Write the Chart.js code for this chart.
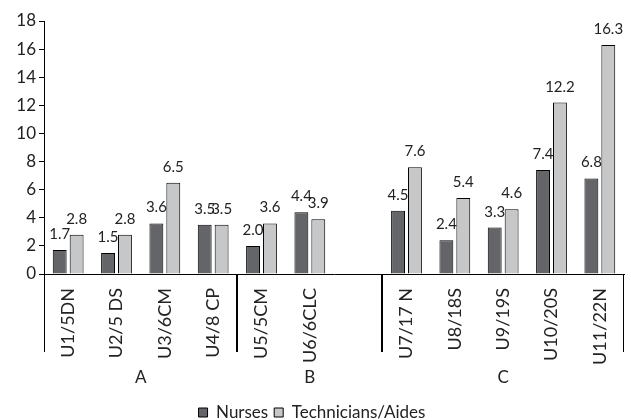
<!DOCTYPE html>
<html>
<head>
<meta charset="utf-8">
<script src="https://cdn.jsdelivr.net/npm/chart.js@4.4.1/dist/chart.umd.min.js"></script>
<style>
  html, body { margin: 0; padding: 0; background: #fff; }
  #wrap { width: 631px; height: 420px; }
</style>
</head>
<body>
<div id="wrap"><canvas id="chart"></canvas></div>
<script>
const units = ['U1/5DN', 'U2/5 DS', 'U3/6CM', 'U4/8 CP', 'U5/5CM', 'U6/6CLC',
               'U7/17 N', 'U8/18S', 'U9/19S', 'U10/20S', 'U11/22N'];
const unitGroups = ['A', 'A', 'A', 'A', 'B', 'B', 'C', 'C', 'C', 'C', 'C'];
const nurses = [1.7, 1.5, 3.6, 3.5, 2.0, 4.4, 4.5, 2.4, 3.3, 7.4, 6.8];
const technicians = [2.8, 2.8, 6.5, 3.5, 3.6, 3.9, 7.6, 5.4, 4.6, 12.2, 16.3];
const yTicks = [0, 2, 4, 6, 8, 10, 12, 14, 16, 18];

const FONT = 'Lato';
const INK = '#222';

// slots on the axis; group B keeps an empty slot at its end like the original
const labels = [], nurseData = [], techData = [], slotGroup = [];
units.forEach((u, i) => {
  labels.push(u);
  nurseData.push(nurses[i]);
  techData.push(technicians[i]);
  slotGroup.push(unitGroups[i]);
  if (unitGroups[i] === 'B' && unitGroups[i + 1] !== 'B') {
    labels.push('');
    nurseData.push(null);
    techData.push(null);
    slotGroup.push('B');
  }
});

const valueLabels = {
  id: 'valueLabels',
  afterDatasetsDraw(chart) {
    const ctx = chart.ctx;
    ctx.save();
    ctx.font = '15px ' + FONT;
    ctx.fillStyle = INK;
    ctx.textAlign = 'center';
    ctx.textBaseline = 'alphabetic';
    chart.data.datasets.forEach((ds, d) => {
      chart.getDatasetMeta(d).data.forEach((bar, i) => {
        const v = ds.data[i];
        if (v == null) return;
        ctx.fillText(v.toFixed(1), bar.x, bar.y - 11);
      });
    });
    ctx.restore();
  }
};

const groupAxis = {
  id: 'groupAxis',
  afterDraw(chart) {
    const ctx = chart.ctx;
    const x = chart.scales.x;
    const area = chart.chartArea;
    const n = labels.length;
    const edge = i => {
      if (i <= 0) return area.left;
      if (i >= n) return area.right;
      return (x.getPixelForValue(i - 1) + x.getPixelForValue(i)) / 2;
    };
    ctx.save();
    ctx.strokeStyle = '#000';
    ctx.lineWidth = 1;
    ctx.fillStyle = INK;
    ctx.font = '17px ' + FONT;
    ctx.textAlign = 'center';
    ctx.textBaseline = 'middle';
    const groups = [...new Set(slotGroup)];
    const lines = new Set();
    groups.forEach(g => {
      const first = slotGroup.indexOf(g);
      const last = slotGroup.lastIndexOf(g);
      const l = edge(first), r = edge(last + 1);
      lines.add(Math.round(l) + 0.5);
      lines.add(Math.round(r) - 0.5);
      ctx.fillText(g, (l + r) / 2, area.bottom + 104);
    });
    lines.forEach(px => {
      ctx.beginPath();
      ctx.moveTo(px, area.bottom);
      ctx.lineTo(px, area.bottom + 78);
      ctx.stroke();
    });
    ctx.restore();
  }
};

new Chart(document.getElementById('chart'), {
  type: 'bar',
  data: {
    labels: labels,
    datasets: [{
      label: 'Nurses',
      data: nurseData,
      backgroundColor: '#646569',
      borderColor: '#000',
      borderWidth: 1
    }, {
      label: 'Technicians/Aides',
      data: techData,
      backgroundColor: '#c6c7c9',
      borderColor: '#000',
      borderWidth: 1
    }]
  },
  options: {
    responsive: true,
    maintainAspectRatio: false,
    animation: false,
    categoryPercentage: 0.7,
    barPercentage: 0.82,
    layout: { padding: { top: 21, right: 7, left: 0, bottom: -11 } },
    plugins: {
      legend: {
        position: 'bottom',
        labels: {
          boxWidth: 9,
          boxHeight: 9,
          padding: 6,
          color: INK,
          font: { family: FONT, size: 17 }
        }
      },
      tooltip: { enabled: false }
    },
    scales: {
      x: {
        grid: { display: false },
        border: { color: '#000', width: 1 },
        ticks: {
          color: INK,
          font: { family: FONT, size: 18 },
          minRotation: 90,
          maxRotation: 90,
          autoSkip: false,
          padding: 6
        },
        afterFit(scale) { scale.height = 124; }
      },
      y: {
        min: yTicks[0],
        max: yTicks[yTicks.length - 1],
        afterBuildTicks(scale) { scale.ticks = yTicks.map(v => ({ value: v })); },
        grid: { drawOnChartArea: false, drawTicks: true, tickLength: 5, color: '#000' },
        border: { color: '#000', width: 1 },
        ticks: {
          color: INK,
          font: { family: FONT, size: 17 },
          padding: 3
        },
        afterFit(scale) { scale.width = 44; }
      }
    }
  },
  plugins: [valueLabels, groupAxis]
});
</script>
</body>
</html>
